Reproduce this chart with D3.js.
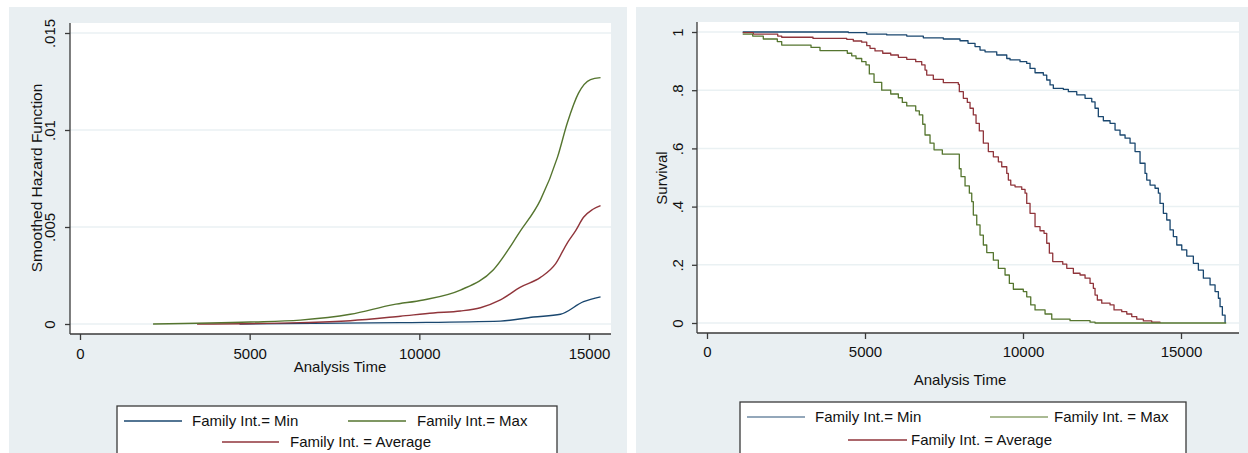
<!DOCTYPE html>
<html>
<head>
<meta charset="utf-8">
<script src="https://cdn.jsdelivr.net/npm/d3@7"></script>
<style>
  html, body { margin: 0; padding: 0; background: #ffffff; }
  svg { display: block; font-family: "Liberation Sans", Arial, sans-serif; }
</style>
</head>
<body>
<svg id="chart" width="1248" height="453"></svg>
<script>
// ---- data -----------------------------------------------------------
const seriesNames = ["Family Int.= Min", "Family Int.= Max", "Family Int. = Average"];
const survivalNames = ["Family Int.= Min", "Family Int. = Max", "Family Int. = Average"];

const xTicks = [0, 5000, 10000, 15000];
const hazardTicks = [0, 0.005, 0.01, 0.015];
const hazardTickLabels = ["0", ".005", ".01", ".015"];
const survivalTicks = [0, 0.2, 0.4, 0.6, 0.8, 1];
const survivalTickLabels = ["0", ".2", ".4", ".6", ".8", "1"];

// smoothed hazard estimates: [analysis time, hazard]
const hazardMin = [[4700, 0], [9440, 0.00007], [12390, 0.00015], [13364, 0.00036],
  [14160, 0.0005], [14839, 0.00115], [15340, 0.0014]];
const hazardMax = [[2153, 0], [5015, 0.0001], [6490, 0.0002], [7965, 0.0005],
  [9234, 0.001], [10119, 0.00124], [11210, 0.00175], [12184, 0.0028], [12980, 0.0048],
  [13570, 0.0064], [14072, 0.0086], [14367, 0.0104], [14691, 0.0119], [15045, 0.0126],
  [15340, 0.0127]];
const hazardAvg = [[3450, 0], [6490, 0.00007], [7965, 0.00017], [9440, 0.0004],
  [10414, 0.00057], [11210, 0.00067], [11800, 0.00084], [12390, 0.00124], [12980, 0.0019],
  [13570, 0.0024], [14013, 0.0031], [14367, 0.0042], [14603, 0.0048], [14839, 0.0055],
  [15104, 0.0059], [15340, 0.0061]];

// Kaplan-Meier survival: [analysis time, survival]
const survMin = [[1130, 1.0], [4472, 0.998], [5055, 0.993], [5688, 0.99], [6321, 0.986],
  [6846, 0.98], [7479, 0.976], [8007, 0.97], [8260, 0.961], [8482, 0.95], [8640, 0.938],
  [8799, 0.932], [9169, 0.921], [9486, 0.909], [9590, 0.904], [9906, 0.898], [10118, 0.892],
  [10223, 0.875], [10381, 0.86], [10644, 0.852], [10751, 0.835], [10856, 0.818], [10960, 0.806],
  [11277, 0.803], [11435, 0.795], [11701, 0.784], [11964, 0.772], [12176, 0.76], [12280, 0.738],
  [12384, 0.709], [12543, 0.695], [12755, 0.686], [12913, 0.663], [13071, 0.646], [13230, 0.635],
  [13388, 0.618], [13546, 0.589], [13704, 0.549], [13862, 0.514], [13916, 0.491], [14021, 0.474],
  [14179, 0.463], [14284, 0.446], [14337, 0.411], [14442, 0.377], [14549, 0.354], [14654, 0.32],
  [14758, 0.297], [14866, 0.268], [15024, 0.251], [15182, 0.23], [15391, 0.205], [15550, 0.182],
  [15708, 0.154], [15920, 0.131], [16078, 0.108], [16183, 0.085], [16236, 0.056], [16309, 0.027],
  [16395, 0.0]];
const survMax = [[1130, 0.993], [1446, 0.986], [1782, 0.976], [2225, 0.967], [2364, 0.955],
  [3292, 0.947], [3576, 0.936], [4440, 0.927], [4580, 0.918], [4716, 0.909], [4896, 0.898],
  [5032, 0.887], [5137, 0.856], [5286, 0.827], [5529, 0.8], [5814, 0.787], [6055, 0.774],
  [6181, 0.758], [6321, 0.746], [6605, 0.729], [6719, 0.715], [6827, 0.683], [6900, 0.646],
  [7058, 0.618], [7185, 0.595], [7447, 0.58], [7985, 0.53], [8040, 0.503], [8166, 0.471],
  [8302, 0.446], [8378, 0.417], [8428, 0.371], [8536, 0.337], [8640, 0.302], [8745, 0.268],
  [8853, 0.242], [9062, 0.216], [9220, 0.188], [9432, 0.165], [9568, 0.136], [9695, 0.116],
  [10010, 0.108], [10118, 0.09], [10245, 0.062], [10381, 0.045], [10698, 0.031], [10910, 0.013],
  [11489, 0.008], [12122, 0.003], [12280, 0.0], [16430, 0.0]];
const survAvg = [[1130, 0.998], [1465, 0.993], [2238, 0.986], [2364, 0.982], [3355, 0.978],
  [4422, 0.975], [4630, 0.969], [4896, 0.965], [5055, 0.953], [5159, 0.944], [5317, 0.935],
  [5561, 0.927], [5814, 0.921], [6055, 0.913], [6321, 0.906], [6605, 0.898], [6795, 0.887],
  [6900, 0.869], [6953, 0.852], [7162, 0.837], [7479, 0.826], [7954, 0.82], [7985, 0.795],
  [8112, 0.772], [8238, 0.758], [8324, 0.738], [8428, 0.715], [8514, 0.686], [8618, 0.66],
  [8745, 0.618], [8903, 0.589], [9062, 0.571], [9220, 0.554], [9327, 0.537], [9486, 0.514],
  [9536, 0.491], [9612, 0.474], [9748, 0.468], [9960, 0.459], [10065, 0.446], [10118, 0.411],
  [10223, 0.377], [10381, 0.331], [10539, 0.317], [10666, 0.308], [10751, 0.274], [10834, 0.24],
  [10941, 0.211], [11258, 0.202], [11385, 0.188], [11594, 0.171], [11805, 0.165], [11964, 0.154],
  [12122, 0.136], [12226, 0.119], [12280, 0.096], [12353, 0.079], [12492, 0.068], [12755, 0.062],
  [12881, 0.045], [13125, 0.039], [13284, 0.031], [13442, 0.022], [13600, 0.013], [13809, 0.007],
  [14074, 0.003], [14337, 0.001]];

// ---- style ----------------------------------------------------------
const colors = { min: "#1a476f", max: "#55752f", avg: "#90353b" };
const bg = "#e9eff2";
const gridColor = "#eaf1f3";
const axisColor = "#3a3a3a";
const fontSize = 15;

const svg = d3.select("#chart");

function panel(cfg) {
  const g = svg.append("g");
  // outer graph region
  g.append("rect").attr("x", cfg.outer[0]).attr("y", cfg.outer[1])
    .attr("width", cfg.outer[2]).attr("height", cfg.outer[3]).attr("fill", bg);
  // plot region
  const [pl, pt, pr, pb] = cfg.plot;
  g.append("rect").attr("x", pl).attr("y", pt).attr("width", pr - pl).attr("height", pb - pt)
    .attr("fill", "#ffffff");

  const x = d3.scaleLinear().domain([0, 15000]).range(cfg.xRange);
  const y = d3.scaleLinear().domain(cfg.yDomain).range(cfg.yRange);

  // horizontal gridlines
  g.selectAll("line.grid").data(cfg.yTicks).enter().append("line")
    .attr("x1", pl).attr("x2", pr)
    .attr("y1", d => y(d)).attr("y2", d => y(d))
    .attr("stroke", gridColor).attr("stroke-width", 1.5);

  // series
  cfg.series.forEach(s => {
    const line = d3.line().x(d => x(d[0])).y(d => y(d[1])).curve(cfg.curve);
    g.append("path").datum(s.data).attr("d", line)
      .attr("fill", "none").attr("stroke", s.color).attr("stroke-width", cfg.lineWidth)
      .attr("stroke-linejoin", "round");
  });

  // y axis
  const yAxis = d3.axisLeft(y).tickValues(cfg.yTicks).tickSize(5)
    .tickFormat((d, i) => cfg.yLabels[i]);
  const ya = g.append("g").attr("transform", `translate(${pl},0)`).call(yAxis);
  ya.select(".domain").attr("d", `M0,${pt}V${pb}`).attr("stroke", axisColor).attr("stroke-width", 1.3);
  ya.selectAll(".tick line").attr("stroke", axisColor).attr("stroke-width", 1.3);
  ya.selectAll(".tick text")
    .attr("font-size", fontSize).attr("font-family", "Liberation Sans, Arial, sans-serif")
    .attr("fill", "#111").attr("text-anchor", "middle")
    .attr("x", null).attr("dy", null)
    .attr("transform", `translate(${cfg.yLabelX - pl},0) rotate(-90)`)
    .attr("dy", "0.36em");

  // x axis
  const xAxis = d3.axisBottom(x).tickValues(xTicks).tickSize(6).tickFormat(d3.format("d"));
  const xa = g.append("g").attr("transform", `translate(0,${pb})`).call(xAxis);
  xa.select(".domain").attr("d", `M${pl},0H${pr}`).attr("stroke", axisColor).attr("stroke-width", 1.3);
  xa.selectAll(".tick line").attr("stroke", axisColor).attr("stroke-width", 1.3);
  xa.selectAll(".tick text").attr("font-size", fontSize)
    .attr("font-family", "Liberation Sans, Arial, sans-serif").attr("fill", "#111")
    .attr("y", cfg.xLabelY - pb).attr("dy", null);

  // axis titles
  g.append("text").attr("x", cfg.xTitle[0]).attr("y", cfg.xTitle[1])
    .attr("text-anchor", "middle").attr("font-size", fontSize).attr("fill", "#111")
    .text("Analysis Time");
  g.append("text").attr("transform", `translate(${cfg.yTitle[0]},${cfg.yTitle[1]}) rotate(-90)`)
    .attr("text-anchor", "middle").attr("dy", "0.36em").attr("font-size", cfg.yTitleSize).attr("fill", "#111")
    .text(cfg.yTitleText);

  // legend
  const L = cfg.legend;
  g.append("rect").attr("x", L.box[0]).attr("y", L.box[1]).attr("width", L.box[2]).attr("height", L.box[3])
    .attr("fill", "#ffffff").attr("stroke", axisColor).attr("stroke-width", 1.3);
  L.items.forEach(it => {
    g.append("line").attr("x1", it.x1).attr("x2", it.x2).attr("y1", it.y).attr("y2", it.y)
      .attr("stroke", it.color).attr("stroke-width", 1.3);
    g.append("text").attr("x", it.tx).attr("y", it.y).attr("dy", "0.36em")
      .attr("font-size", fontSize).attr("fill", "#111").text(it.label);
  });
}

// left: smoothed hazard estimates
panel({
  outer: [9, 7, 618, 460],
  plot: [70, 23, 611, 334],
  xRange: [80, 589],
  yDomain: [0, 0.015], yRange: [324, 33],
  yTicks: hazardTicks, yLabels: hazardTickLabels, yLabelX: 50,
  xLabelY: 359,
  xTitle: [340, 372], yTitle: [36, 178], yTitleText: "Smoothed Hazard Function", yTitleSize: 15.5,
  curve: d3.curveMonotoneX, lineWidth: 1.4,
  series: [
    { data: hazardMin, color: colors.min },
    { data: hazardAvg, color: colors.avg },
    { data: hazardMax, color: colors.max }
  ],
  legend: {
    box: [117, 406, 440, 60],
    items: [
      { x1: 124, x2: 182, y: 421, tx: 192, color: colors.min, label: seriesNames[0] },
      { x1: 348, x2: 406, y: 421, tx: 417, color: colors.max, label: seriesNames[1] },
      { x1: 222, x2: 279, y: 442, tx: 290, color: colors.avg, label: seriesNames[2] }
    ]
  }
});

// right: Kaplan-Meier survival estimates
panel({
  outer: [636, 7, 612, 460],
  plot: [697, 22, 1239, 333],
  xRange: [707, 1181],
  yDomain: [0, 1], yRange: [323, 32],
  yTicks: survivalTicks, yLabels: survivalTickLabels, yLabelX: 678,
  xLabelY: 357,
  xTitle: [960, 385], yTitle: [662, 178], yTitleText: "Survival", yTitleSize: 15,
  curve: d3.curveStepAfter, lineWidth: 1.3,
  series: [
    { data: survMin, color: colors.min },
    { data: survAvg, color: colors.avg },
    { data: survMax, color: colors.max }
  ],
  legend: {
    box: [740, 402, 446, 60],
    items: [
      { x1: 747, x2: 805, y: 417, tx: 815, color: "#6f8aa3", label: survivalNames[0] },
      { x1: 990, x2: 1048, y: 417, tx: 1054, color: "#8ea36f", label: survivalNames[1] },
      { x1: 848, x2: 907, y: 440, tx: 911, color: colors.avg, label: survivalNames[2] }
    ]
  }
});
</script>
</body>
</html>
